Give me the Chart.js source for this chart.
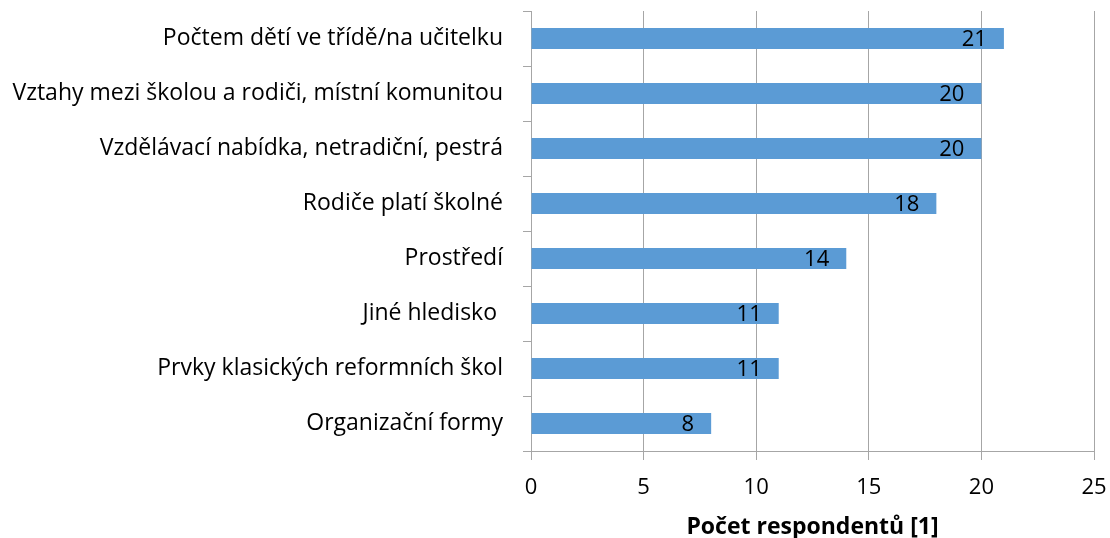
<!DOCTYPE html>
<html>
<head>
<meta charset="utf-8">
<script src="https://cdn.jsdelivr.net/npm/chart.js@4/dist/chart.umd.min.js"></script>
<style>
    html, body { margin: 0; padding: 0; background: #fff; }
    #wrap { width: 1110px; height: 538px; }
</style>
</head>
<body>
<div id="wrap"><canvas id="chart" width="1110" height="538"></canvas></div>
<script>
// Categories (top to bottom)
const categories = [
    'Počtem dětí ve třídě/na učitelku',
    'Vztahy mezi školou a rodiči, místní komunitou',
    'Vzdělávací nabídka, netradiční, pestrá',
    'Rodiče platí školné',
    'Prostředí',
    'Jiné hledisko ',
    'Prvky klasických reformních škol',
    'Organizační formy'
];

// Number of respondents
const respondents = [21, 20, 20, 18, 14, 11, 11, 8];

const axisTitle = 'Počet respondentů [1]';

const fontFamily = "'Open Sans', 'Liberation Sans', sans-serif";

// Draw value labels inside the end of each bar
const valueLabels = {
    id: 'valueLabels',
    afterDatasetsDraw(chart) {
        const ctx = chart.ctx;
        const meta = chart.getDatasetMeta(0);
        ctx.save();
        ctx.font = '22px ' + fontFamily;
        ctx.fillStyle = '#000';
        ctx.textAlign = 'right';
        ctx.textBaseline = 'middle';
        meta.data.forEach((bar, i) => {
            ctx.fillText(String(respondents[i]), bar.x - 17, bar.y + 1);
        });
        ctx.restore();
    }
};

new Chart(document.getElementById('chart').getContext('2d'), {
    type: 'bar',
    data: {
        labels: categories,
        datasets: [{
            data: respondents,
            backgroundColor: '#5B9BD5',
            borderWidth: 0,
            categoryPercentage: 1,
            barPercentage: 0.385
        }]
    },
    options: {
        indexAxis: 'y',
        responsive: false,
        animation: false,
        layout: { padding: { top: 11, right: 16 } },
        plugins: {
            legend: { display: false },
            tooltip: { enabled: false }
        },
        scales: {
            x: {
                min: 0,
                max: 25,
                ticks: {
                    stepSize: 5,
                    color: '#000',
                    padding: 15,
                    font: { family: fontFamily, size: 22 }
                },
                grid: {
                    color: '#a6a6a6',
                    lineWidth: 1,
                    tickLength: 9
                },
                border: { color: '#a6a6a6' },
                title: {
                    display: true,
                    text: axisTitle,
                    color: '#000',
                    padding: { top: 6, bottom: -3 },
                    font: { family: fontFamily, size: 23, weight: 'bold' }
                },
                afterFit(scale) {
                    scale.height = 87;
                    scale.paddingLeft = 0;
                    scale.paddingRight = 0;
                }
            },
            y: {
                ticks: {
                    color: '#000',
                    padding: 20,
                    font: { family: fontFamily, size: 23 }
                },
                grid: {
                    offset: true,
                    drawOnChartArea: false,
                    color: '#a6a6a6',
                    tickLength: 8
                },
                border: { color: '#a6a6a6' },
                afterFit(scale) {
                    scale.width = 531;
                    scale.paddingTop = 0;
                    scale.paddingBottom = 0;
                }
            }
        }
    },
    plugins: [valueLabels]
});
</script>
</body>
</html>
